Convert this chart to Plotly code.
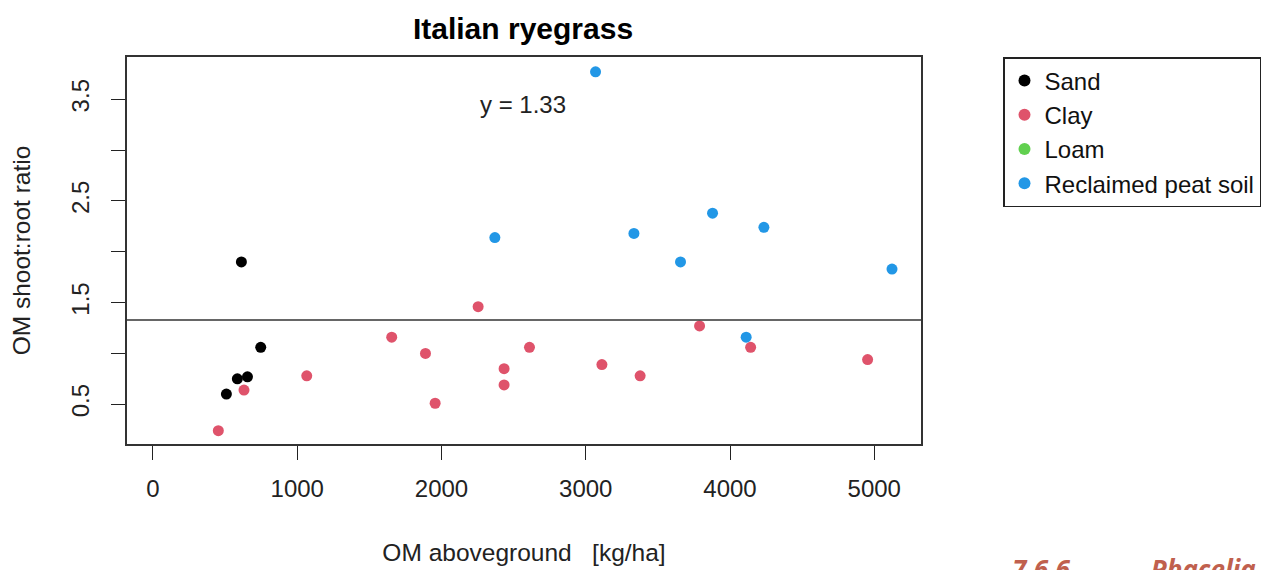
import plotly.graph_objects as go

# ---- data ----
sand_x = [613, 747, 585, 655, 509]
sand_y = [1.90, 1.06, 0.75, 0.77, 0.60]

clay_x = [453, 631, 1066, 1655, 1889, 1956, 2254, 2434, 2434, 2610, 3112, 3377, 3789, 4143, 4954]
clay_y = [0.24, 0.64, 0.78, 1.16, 1.00, 0.51, 1.46, 0.85, 0.69, 1.06, 0.89, 0.78, 1.27, 1.06, 0.94]

loam_x = []
loam_y = []

peat_x = [2370, 3068, 3334, 3879, 4235, 3657, 5123, 4112]
peat_y = [2.14, 3.77, 2.18, 2.38, 2.24, 1.90, 1.83, 1.16]

mean_ratio = 1.33

x_ticks = [0, 1000, 2000, 3000, 4000, 5000]
y_ticks = [0.5, 1.0, 1.5, 2.0, 2.5, 3.0, 3.5]
y_ticktext = ["0.5", "", "1.5", "", "2.5", "", "3.5"]

series = [
    ("Sand", sand_x, sand_y, "#000000"),
    ("Clay", clay_x, clay_y, "#DF536B"),
    ("Loam", loam_x, loam_y, "#61D04F"),
    ("Reclaimed peat soil", peat_x, peat_y, "#2297E6"),
]

FONT = "Liberation Sans, Arial, sans-serif"

fig = go.Figure()
for name, xs, ys, col in series:
    fig.add_trace(go.Scatter(
        x=xs if xs else [None], y=ys if ys else [None],
        mode="markers", name=name,
        marker=dict(color=col, size=11, line=dict(width=0)),
    ))

fig.add_shape(type="line", xref="paper", yref="y", x0=0, x1=1,
              y0=mean_ratio, y1=mean_ratio, line=dict(color="#333333", width=1.5))

fig.add_annotation(x=2564, y=3.45, xref="x", yref="y", text=f"y = {mean_ratio}",
                   showarrow=False, font=dict(size=24, color="#222222", family=FONT))

fig.add_annotation(x=1.112, y=-0.272, xref="paper", yref="paper", xanchor="left", yanchor="top",
                   text="<b><i>7.6.6&nbsp;&nbsp;&nbsp;&nbsp;&nbsp;&nbsp;&nbsp;&nbsp;&nbsp;&nbsp;&nbsp;&nbsp;Phacelia</i></b>",
                   showarrow=False, font=dict(size=26, color="#C0604E", family="Open Sans, sans-serif"))

fig.update_layout(
    width=1283, height=570,
    margin=dict(l=127, r=362, t=57, b=126, autoexpand=False),
    paper_bgcolor="white", plot_bgcolor="white",
    title=dict(text="<b>Italian ryegrass</b>", x=523 / 1283, xanchor="center",
               y=1 - 28 / 570, yanchor="middle",
               font=dict(size=30, color="black", family=FONT)),
    font=dict(family=FONT, color="#222222"),
    showlegend=True,
    legend=dict(x=(1003 - 127) / 794, y=1.0, xanchor="left", yanchor="top",
                bordercolor="#222222", borderwidth=1.5, bgcolor="white",
                font=dict(size=24, color="#111111", family=FONT),
                itemsizing="constant"),
    xaxis=dict(range=[-180, 5324], tickvals=x_ticks, ticks="outside", ticklen=14,
               tickcolor="#222222", tickwidth=1, showline=True, mirror=True,
               linecolor="#333333", linewidth=1.5, showgrid=False, zeroline=False,
               automargin=False,
               tickfont=dict(size=24, color="#222222"), ticklabelstandoff=8,
               title=dict(text="OM aboveground&nbsp;&nbsp;&nbsp;[kg/ha]", standoff=43,
                          font=dict(size=24.5, color="#222222"))),
    yaxis=dict(range=[0.109, 3.916], tickvals=y_ticks, ticktext=y_ticktext, ticks="outside",
               ticklen=14, tickcolor="#222222", tickwidth=1, showline=True, mirror=True,
               linecolor="#333333", linewidth=1.5, showgrid=False, zeroline=False,
               automargin=False,
               tickangle=-90, tickfont=dict(size=24, color="#222222"), ticklabelstandoff=13,
               title=dict(text="OM shoot:root ratio", standoff=29,
                          font=dict(size=24.5, color="#222222"))),
)

fig.write_html("out.html")
